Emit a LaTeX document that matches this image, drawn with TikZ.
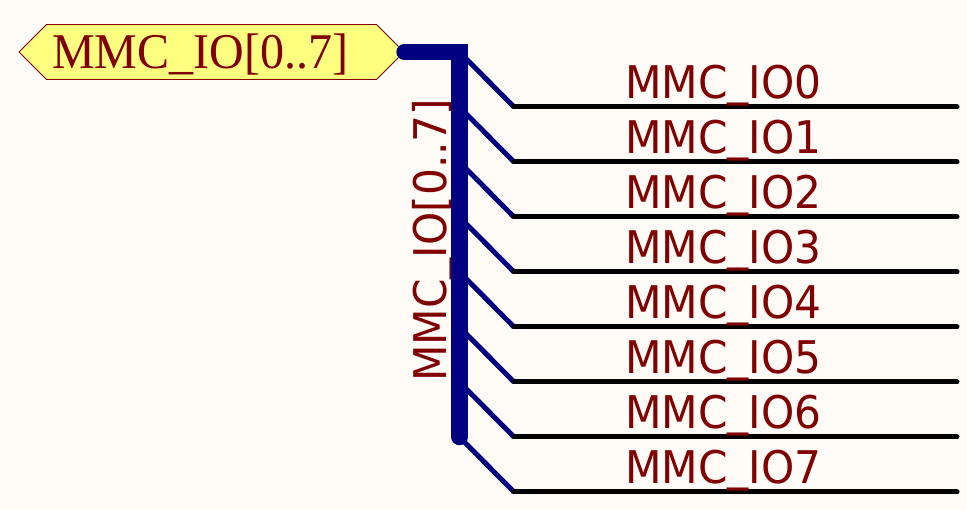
\documentclass[tikz,border=0pt]{standalone}
\usepackage{fontspec}
\usepackage{tikz}
\usetikzlibrary{shapes}
\newfontfamily\netfont[FakeStretch=0.94]{DejaVu Sans}
\newfontfamily\portfont[FakeStretch=0.96]{Liberation Serif}
\newcommand{\netbar}{\raisebox{3.5pt}{\_}}
\definecolor{paper}{HTML}{FFFCF8}
\definecolor{netred}{HTML}{800000}
\definecolor{busblue}{HTML}{000080}
\definecolor{portyellow}{HTML}{FFFF80}
\tikzset{
	netlabel/.style={anchor=base west, inner sep=0, text=netred, font=\netfont\fontsize{45}{50}\selectfont},
	wire/.style={draw=black, line width=5pt, line cap=round},
	entry/.style={draw=busblue, line width=5pt},
	bus/.style={draw=busblue, line width=16.5pt, line cap=round}
}

\begin{document}
\begin{tikzpicture}[x=1pt, y=-1pt]
		\fill[paper] (0, 0) rectangle (967, 510);
		\node[signal, signal to=west and east, signal pointer angle=90, draw=netred, fill=portyellow, line width=0.8pt, minimum width=385pt, minimum height=55pt, inner sep=0] (port) at (211.5, 52) {};
		\node[anchor=base west, inner sep=0, text=netred, font=\portfont\fontsize{50}{55}\selectfont] (portlabel) at (52, 69) {MMC\_IO[0..7]};
		\node[netlabel, rotate=90] (buslabel) at (446, 382) {MMC\netbar IO[0..7]};
		\coordinate (corner) at (459.5, 52);
		\coordinate (busend) at (459.5, 437);
		\coordinate (tap1) at (459.5, 107);
		\coordinate (tap2) at (459.5, 162);
		\coordinate (tap3) at (459.5, 217);
		\coordinate (tap4) at (459.5, 272);
		\coordinate (tap5) at (459.5, 327);
		\coordinate (tap6) at (459.5, 382);
		\coordinate (w0) at (514, 107);
		\coordinate (w1) at (514, 162);
		\coordinate (w2) at (514, 217);
		\coordinate (w3) at (514, 272);
		\coordinate (w4) at (514, 327);
		\coordinate (w5) at (514, 382);
		\coordinate (w6) at (514, 437);
		\coordinate (w7) at (514, 492);
		\coordinate (e0) at (957, 107);
		\coordinate (e1) at (957, 162);
		\coordinate (e2) at (957, 217);
		\coordinate (e3) at (957, 272);
		\coordinate (e4) at (957, 327);
		\coordinate (e5) at (957, 382);
		\coordinate (e6) at (957, 437);
		\coordinate (e7) at (957, 492);
		\draw[entry] (corner) -- (w0);
		\draw[entry] (tap1) -- (w1);
		\draw[entry] (tap2) -- (w2);
		\draw[entry] (tap3) -- (w3);
		\draw[entry] (tap4) -- (w4);
		\draw[entry] (tap5) -- (w5);
		\draw[entry] (tap6) -- (w6);
		\draw[entry] (busend) -- (w7);
		\draw[wire] (w0) -- (e0);
		\draw[wire] (w1) -- (e1);
		\draw[wire] (w2) -- (e2);
		\draw[wire] (w3) -- (e3);
		\draw[wire] (w4) -- (e4);
		\draw[wire] (w5) -- (e5);
		\draw[wire] (w6) -- (e6);
		\draw[wire] (w7) -- (e7);
		\draw[bus] (port.east) -- (corner) -- (busend);
		\node[netlabel] (io0) at (625, 99) {MMC\netbar IO0};
		\node[netlabel] (io1) at (625, 154) {MMC\netbar IO1};
		\node[netlabel] (io2) at (625, 209) {MMC\netbar IO2};
		\node[netlabel] (io3) at (625, 264) {MMC\netbar IO3};
		\node[netlabel] (io4) at (625, 319) {MMC\netbar IO4};
		\node[netlabel] (io5) at (625, 374) {MMC\netbar IO5};
		\node[netlabel] (io6) at (625, 429) {MMC\netbar IO6};
		\node[netlabel] (io7) at (625, 484) {MMC\netbar IO7};
	\end{tikzpicture}
\end{document}
